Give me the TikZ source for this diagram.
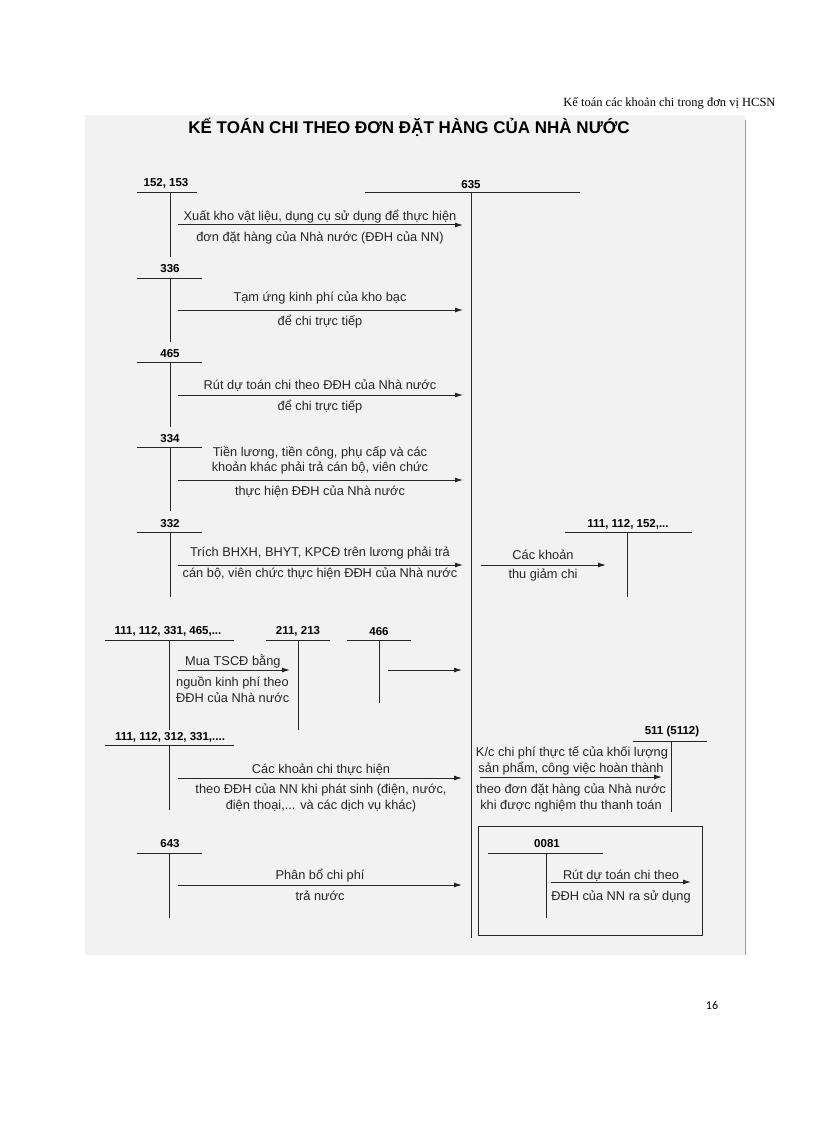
\documentclass[tikz,border=0pt]{standalone}
\usepackage{fontspec}
\setmainfont{Liberation Sans}
\newfontfamily\seriff{Liberation Serif}
\newfontfamily\calib{Carlito}
\usetikzlibrary{arrows.meta}
\begin{document}
\begin{tikzpicture}[x=1pt,y=-1pt,
  tl/.style={line width=1pt,draw=black!85},
  ar/.style={line width=1pt,draw=black!85,-{Latex[length=8pt,width=5pt]}},
  acc/.style={font=\fontsize{11.5}{13}\selectfont\bfseries,inner sep=1pt},
  tx/.style={font=\fontsize{12.8}{14}\selectfont,inner sep=0pt,text=black!85}]
\useasboundingbox (0,0) rectangle (816,1123);
\fill[black!5] (85,115) rectangle (745,955);
\draw[black!40,line width=1pt] (745,120) -- (745,955);
\node[font=\seriff\fontsize{12.5}{14}\selectfont,anchor=east] (hdr) at (779,103) {Kế toán các khoản chi trong đơn vị HCSN};
\node[font=\fontsize{17}{19}\selectfont\bfseries] (title) at (409,127) {KẾ TOÁN CHI THEO ĐƠN ĐẶT HÀNG CỦA NHÀ NƯỚC};
\node[font=\calib\fontsize{12}{14}\selectfont] (pg) at (712,1005) {16};
% 635
\node[acc] (l635) at (471,185) {635};
\draw[tl] (365,193) -- (580,193);
\draw[tl] (471,193) coordinate (v635t) -- (471,938) coordinate (v635b);
% row 1
\node[acc] (a1) at (166,183) {152, 153};
\draw[tl] (137,193) -- (197,193); \draw[tl] (170,193) -- (170,257);
\coordinate (s1) at (178,225); \coordinate (e1) at (463,225);
\draw[ar] (s1) -- (e1);
\node[tx] (t1a) at (320,217) {Xuất kho vật liệu, dụng cụ sử dụng để thực hiện};
\node[tx] (t1b) at (320,238) {đơn đặt hàng của Nhà nước (ĐĐH của NN)};
% row 2
\node[acc] (a2) at (170,269) {336};
\draw[tl] (137,278) -- (202,278); \draw[tl] (170,278) -- (170,342);
\coordinate (s2) at (178,310); \coordinate (e2) at (463,310);
\draw[ar] (s2) -- (e2);
\node[tx] (t2a) at (320,298) {Tạm ứng kinh phí của kho bạc};
\node[tx] (t2b) at (320,322) {để chi trực tiếp};
% row 3
\node[acc] (a3) at (170,354) {465};
\draw[tl] (137,362) -- (202,362); \draw[tl] (170,362) -- (170,427);
\coordinate (s3) at (178,395); \coordinate (e3) at (463,395);
\draw[ar] (s3) -- (e3);
\node[tx] (t3a) at (320,386) {Rút dự toán chi theo ĐĐH của Nhà nước};
\node[tx] (t3b) at (320,407) {để chi trực tiếp};
% row 4
\node[acc] (a4) at (170,439) {334};
\draw[tl] (137,447) -- (202,447); \draw[tl] (170,447) -- (170,511);
\coordinate (s4) at (178,480); \coordinate (e4) at (463,480);
\draw[ar] (s4) -- (e4);
\node[tx] (t4a) at (320,453) {Tiền lương, tiền công, phụ cấp và các};
\node[tx] (t4b) at (320,468) {khoản khác phải trả cán bộ, viên chức};
\node[tx] (t4c) at (320,492) {thực hiện ĐĐH của Nhà nước};
% row 5
\node[acc] (a5) at (170,524) {332};
\draw[tl] (137,532) -- (202,532); \draw[tl] (170,532) -- (170,597);
\coordinate (s5) at (178,565); \coordinate (e5) at (463,565);
\draw[ar] (s5) -- (e5);
\node[tx] (t5a) at (320,553) {Trích BHXH, BHYT, KPCĐ trên lương phải trả};
\node[tx] (t5b) at (320,574) {cán bộ, viên chức thực hiện ĐĐH của Nhà nước};
\node[acc] (a5r) at (628,524) {111, 112, 152,...};
\draw[tl] (565,532) -- (692,532); \draw[tl] (627,532) -- (627,597);
\coordinate (s5r) at (481,565); \coordinate (e5r) at (606,565);
\draw[ar] (s5r) -- (e5r);
\node[tx] (t5c) at (543,555) {Các khoản};
\node[tx] (t5d) at (543,575) {thu giảm chi};
% row 6
\node[acc] (a6) at (168,631) {111, 112, 331, 465,...};
\draw[tl] (105,640) -- (234,640); \draw[tl] (169,640) -- (169,730);
\node[acc] (a6b) at (298,631) {211, 213};
\draw[tl] (266,640) -- (330,640); \draw[tl] (298,640) -- (298,730);
\coordinate (s6) at (178,670); \coordinate (e6) at (290,670);
\draw[ar] (s6) -- (e6);
\node[tx,anchor=west] (t6a) at (185,661) {Mua TSCĐ bằng};
\node[tx,anchor=west] (t6b) at (176,683) {nguồn kinh phí theo};
\node[tx,anchor=west] (t6c) at (176,698) {ĐĐH của Nhà nước};
\node[acc] (a6c) at (379,632) {466};
\draw[tl] (347,640) -- (411,640); \draw[tl] (379,640) -- (379,703);
\coordinate (s6c) at (388,670); \coordinate (e6c) at (462,670);
\draw[ar] (s6c) -- (e6c);
% row 7
\node[acc] (a7) at (170,737) {111, 112, 312, 331,....};
\draw[tl] (105,745) -- (234,745); \draw[tl] (169,745) -- (169,810);
\coordinate (s7) at (178,778); \coordinate (e7) at (462,778);
\draw[ar] (s7) -- (e7);
\node[tx] (t7a) at (321,770) {Các khoản chi thực hiện};
\node[tx] (t7b) at (321,790) {theo ĐĐH của NN khi phát sinh (điện, nước,};
\node[tx] (t7c) at (321,806) {điện thoại,... và các dịch vụ khác)};
\node[acc] (a7r) at (672,732) {511 (5112)};
\draw[tl] (633,741) -- (707,741); \draw[tl] (671,741) -- (671,812);
\coordinate (s7r) at (480,777); \coordinate (e7r) at (662,777);
\draw[ar] (s7r) -- (e7r);
\node[tx] (t7d) at (572,753) {K/c chi phí thực tế của khối lượng};
\node[tx] (t7e) at (571,769) {sản phẩm, công việc hoàn thành};
\node[tx] (t7f) at (571,790) {theo đơn đặt hàng của Nhà nước};
\node[tx] (t7g) at (571,806) {khi được nghiệm thu thanh toán};
% row 8
\node[acc] (a8) at (170,844) {643};
\draw[tl] (137,853) -- (202,853); \draw[tl] (169,853) -- (169,918);
\coordinate (s8) at (178,885); \coordinate (e8) at (462,885);
\draw[ar] (s8) -- (e8);
\node[tx] (t8a) at (320,876) {Phân bổ chi phí};
\node[tx] (t8b) at (320,896) {trả nước};
\draw[tl] (478,826) rectangle (702,935);
\node[acc] (a8r) at (547,844) {0081};
\draw[tl] (488,853) -- (603,853); \draw[tl] (546,853) -- (546,918);
\coordinate (s8r) at (551,882); \coordinate (e8r) at (691,882);
\draw[ar] (s8r) -- (e8r);
\node[tx] (t8c) at (621,876) {Rút dự toán chi theo};
\node[tx] (t8d) at (621,897) {ĐĐH của NN ra sử dụng};
\end{tikzpicture}
\end{document}
